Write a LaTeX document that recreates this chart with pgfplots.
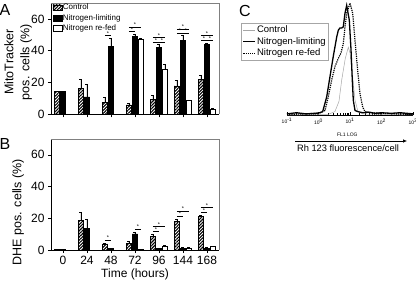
\documentclass[border=0pt]{standalone}
\usepackage{fontspec}
\setmainfont{Liberation Sans}
\usepackage{pgfplots}
\usepackage{pgfplotstable}
\pgfplotsset{compat=1.18}
\usetikzlibrary{patterns.meta,arrows.meta}

% Panel A: MitoTracker
\pgfplotstableread{
x c ce
0 14.5 0
1 16.3 5.7
2 7.3 3.4
3 6.0 0.8
4 9.6 2.5
5 17.8 3.3
6 22.0 2.3
}\Actrl
\pgfplotstableread{
x n ne
0 14.5 0
1 11.0 7.6
2 42.5 5.5
3 48.8 1.5
4 42.1 1.7
5 46.3 3.4
6 44.0 0.8
}\Anl
\pgfplotstableread{
x r re
3 47.2 0.9
4 28.5 3.1
5 8.7 0.3
6 3.2 0.3
}\Aref
% Panel B: DHE
\pgfplotstableread{
x c ce
0 0.3 0
1 18.9 4.8
2 3.8 0.4
3 4.2 1.4
4 8.4 1.8
5 18.2 1.4
6 21.2 0.7
}\Bctrl
\pgfplotstableread{
x n ne
0 0.5 0
1 13.6 5.7
2 0.8 0.2
3 10.2 1.2
4 0.8 0.4
5 1.2 0.2
6 1.2 0.3
}\Bnl
\pgfplotstableread{
x r re
3 0.2 0
4 2.2 0.6
5 1.2 0.2
6 2.2 0.3
}\Bref

\newcommand{\sigline}[3]{\draw[line width=0.6pt] (axis cs:#1,#3) -- (axis cs:#2,#3);}
\newcommand{\sigstar}[2]{\node[inner sep=0pt, font=\fontsize{5.5}{5.5}\selectfont, anchor=south, yshift=0.2pt] at (axis cs:#1,#2) {*};}

\pgfplotsset{
  barax/.style={
    scale only axis, width=168pt,
    xmin=-0.5, xmax=6.5, ymin=0, ymax=70,
    ybar=0.5pt, bar width=5.5pt,
    axis x line*=bottom, axis y line*=left,
    ytick={0,20,40,60}, xtick={0,...,6},
    tick align=outside, major tick length=3pt,
    tick style={black, line width=0.6pt},
    axis line style={line width=0.7pt},
    every tick label/.append style={font=\fontsize{12}{12}\selectfont},
    /pgf/number format/assume math mode=true,
    after end axis/.code={\draw[gray, line width=0.5pt] (rel axis cs:0,1) -- (rel axis cs:1,1) -- (rel axis cs:1,0);},
    error bars/y dir=plus, error bars/y explicit,
    error bars/error mark options={rotate=90, mark size=1.5pt, line width=0.6pt, black},
    error bars/error bar style={line width=0.6pt, black},
  },
  cst/.style={draw=black, line width=0.5pt, pattern={Lines[angle=45,distance=2.2pt,line width=1.1pt]}},
  nst/.style={draw=black, fill=black, line width=0.5pt},
  rst/.style={draw=black, fill=white, line width=0.6pt},
}

\begin{document}
\begin{tikzpicture}[x=1pt,y=1pt]
\useasboundingbox (0,0) rectangle (416,282);

% ---------------- Panel A ----------------
\begin{axis}[barax, height=111.3pt,
  at={(51pt,167.7pt)}, anchor=south west,
  xticklabels={,,,,,,},
  ylabel={MitoTracker\\pos. cells (\%)},
  ylabel style={align=center, font=\fontsize{12.5}{16}\selectfont, at={(axis description cs:-0.195,0.47)}, anchor=center},
  legend style={at={(axis description cs:0.008,0.998)}, anchor=north west, draw=none, fill=none,
     font=\fontsize{8}{8}\selectfont, row sep=1.6pt, inner sep=0pt, nodes={inner sep=0.7pt}},
  legend cell align=left,
  legend image code/.code={\draw[#1] (0pt,-2.8pt) rectangle (9pt,2.8pt);},
]
\addplot[cst] table[x=x,y=c,y error=ce] {\Actrl};
\addplot[nst] table[x=x,y=n,y error=ne] {\Anl};
\addplot[rst] table[x=x,y=r,y error=re] {\Aref};
\legend{Control,Nitrogen-limiting,Nitrogen re-fed}
\sigline{1.75}{2.0}{49.4}\sigstar{1.875}{49.4}
\sigline{2.75}{3.0}{52}\sigstar{2.875}{52}
\sigline{2.75}{3.25}{54.7}\sigstar{3.0}{54.7}
\sigline{3.75}{4.25}{45}\sigstar{3.875}{45}\sigstar{4.125}{45}
\sigline{3.75}{4.25}{48.2}\sigstar{4.0}{48.2}
\sigline{4.75}{5.25}{50.9}\sigstar{4.875}{50.9}\sigstar{5.125}{50.9}
\sigline{4.75}{5.25}{53.6}\sigstar{5.0}{53.6}
\sigline{5.75}{6.25}{46.3}\sigstar{5.875}{46.3}\sigstar{6.125}{46.3}
\sigline{5.75}{6.25}{49.4}\sigstar{6.0}{49.4}
\end{axis}

% ---------------- Panel B ----------------
\begin{axis}[barax, height=111pt,
  at={(51pt,32pt)}, anchor=south west,
  xticklabels={0,24,48,72,96,144,168},
  xlabel={Time (hours)},
  xlabel style={font=\fontsize{12}{12}\selectfont, at={(axis description cs:0.5,-0.22)}, anchor=center},
  ylabel={DHE pos. cells (\%)},
  ylabel style={font=\fontsize{12.5}{14}\selectfont, at={(axis description cs:-0.196,0.34)}, anchor=center},
]
\addplot[cst] table[x=x,y=c,y error=ce] {\Bctrl};
\addplot[nst] table[x=x,y=n,y error=ne] {\Bnl};
\addplot[rst] table[x=x,y=r,y error=re] {\Bref};
\sigline{1.75}{2.0}{6.3}\sigstar{1.875}{6.3}
\sigline{3.0}{3.25}{13.0}\sigstar{3.125}{13.0}
\sigline{3.75}{4.0}{11.6}\sigstar{3.875}{11.6}
\sigline{3.75}{4.25}{14.8}\sigstar{4.0}{14.8}
\sigline{4.75}{5.0}{21.5}\sigstar{4.875}{21.5}
\sigline{4.75}{5.25}{24.6}\sigstar{5.0}{24.6}
\sigline{5.75}{6.0}{23.7}\sigstar{5.875}{23.7}
\sigline{5.75}{6.25}{26.8}\sigstar{6.0}{26.8}
\end{axis}

% ---------------- Panel C ----------------
\begin{axis}[scale only axis, width=126pt, height=113pt,
  at={(287pt,167pt)}, anchor=south west,
  xmin=-1, xmax=3, ymin=0, ymax=1, clip=false,
  axis x line*=bottom, axis y line=none,
  axis line style={line width=0.6pt},
  xtick={-1,0,1,2,3},
  xticklabels={10\textsuperscript{-1},10\textsuperscript{0},10\textsuperscript{1},10\textsuperscript{2},10\textsuperscript{3}},
  minor xtick={-0.699,-0.523,-0.398,-0.301,-0.222,-0.155,-0.097,-0.046,
               0.301,0.477,0.602,0.699,0.778,0.845,0.903,0.954,
               1.301,1.477,1.602,1.699,1.778,1.845,1.903,1.954,
               2.301,2.477,2.602,2.699,2.778,2.845,2.903,2.954},
  tick align=inside, major tick length=3pt, minor tick length=1.6pt,
  tick style={black, line width=0.5pt},
  xticklabel style={font=\fontsize{5}{5}\selectfont},
  xlabel={FL1 LOG},
  xlabel style={font=\fontsize{5}{5}\selectfont, at={(axis description cs:0.479,-0.171)}, anchor=center},
  legend style={at={(axis description cs:-0.365,0.814)}, anchor=north west, draw=gray!70, line width=0.5pt,
     font=\fontsize{9.5}{9.5}\selectfont, inner sep=1.5pt, row sep=1.2pt, nodes={inner sep=1pt}},
  legend cell align=left,
  legend image code/.code={\draw[#1] (0pt,0pt) -- (12pt,0pt);},
]
\addplot[gray!70, line width=0.5pt] coordinates {
(-1.0,0.0) (0.0,0.005) (0.3,0.005) (0.52,0.03) (0.65,0.12) (0.737,0.31) (0.85,0.5)
(0.946,0.6) (1.0,0.55) (1.08,0.35) (1.16,0.13) (1.254,0.03) (1.4,0.01) (2.0,0.005) (3.0,0.0)};
\addplot[black, line width=1.3pt] coordinates {
(-1.0,0.01) (-0.7,0.02) (-0.4,0.01) (-0.1,0.015) (0.05,0.02) (0.133,0.03) (0.26,0.16)
(0.365,0.34) (0.47,0.52) (0.578,0.69) (0.629,0.75) (0.68,0.77) (0.737,0.77) (0.787,0.78)
(0.841,0.9) (0.895,0.97) (0.978,0.84) (1.032,0.58) (1.073,0.31) (1.105,0.13) (1.159,0.04)
(1.25,0.03) (1.4,0.02) (1.6,0.025) (1.8,0.015) (2.0,0.02) (2.3,0.015) (2.6,0.02) (3.0,0.01)};
\addplot[black, line width=1.2pt, densely dotted] coordinates {
(-1.0,0.005) (-0.5,0.01) (0.0,0.015) (0.206,0.04) (0.311,0.16) (0.419,0.31) (0.524,0.43)
(0.629,0.5) (0.714,0.55) (0.787,0.63) (0.841,0.78) (0.895,0.9) (1.0,0.99) (1.086,0.9)
(1.159,0.66) (1.232,0.43) (1.317,0.19) (1.403,0.07) (1.476,0.03) (1.7,0.02) (2.0,0.015)
(2.5,0.01) (3.0,0.005)};
\legend{Control,Nitrogen-limiting,Nitrogen re-fed}
\end{axis}

\draw[-{Latex[length=4pt,width=3.5pt]}, line width=0.6pt] (295,141) -- (407,141);
\node[font=\fontsize{9.3}{10}\selectfont, inner sep=0pt] at (348,133.7) {Rh 123 fluorescence/cell};

\node[font=\fontsize{16}{16}\selectfont, inner sep=0pt] at (5,272) {A};
\node[font=\fontsize{16}{16}\selectfont, inner sep=0pt] at (5,138) {B};
\node[font=\fontsize{16}{16}\selectfont, inner sep=0pt] at (245,271.5) {C};
\end{tikzpicture}
\end{document}
